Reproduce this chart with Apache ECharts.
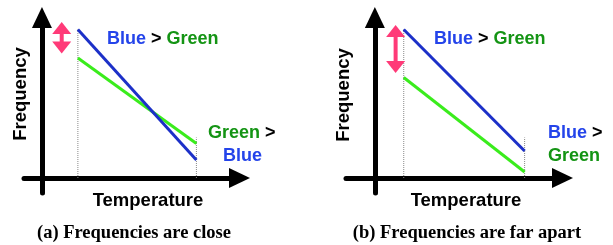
<!DOCTYPE html>
<html>
<head>
<meta charset="utf-8">
<script src="https://cdn.jsdelivr.net/npm/echarts@6/dist/echarts.min.js"></script>
<style>
  html, body { margin: 0; padding: 0; background: #fff; }
  #chart { width: 613px; height: 245px; }
</style>
</head>
<body>
<div id="chart"></div>
<script>
// panel (a): frequencies are close
const tempA = [2.0, 8.6];
const blueA = [9.9, 1.2];
const greenA = [8.0, 2.3];
const dotTopA = [9.9, 2.7];
const gapXA = [1.1, 1.1];
const gapYA = [10.0, 8.7];

// panel (b): frequencies are far apart
const tempB = [1.6, 8.3];
const blueB = [9.9, 1.8];
const greenB = [6.7, 0.4];
const dotTopB = [9.9, 2.7];
const gapXB = [1.15, 1.15];
const gapYB = [9.8, 7.4];

const BLUE_LINE = '#1c30c8';
const GREEN_LINE = '#3aec1c';
const BLUE_TXT = '#2444ea';
const GREEN_TXT = '#149414';
const PINK = '#ff3a78';

const pairs = (xs, ys) => xs.map((x, i) => [x, ys[i]]);

const axisCommon = {
  type: 'value',
  axisLine: {
    show: true,
    onZero: true,
    symbol: ['none', 'triangle'],
    symbolSize: [20, 21],
    lineStyle: { color: '#000', width: 5 }
  },
  axisTick: { show: false },
  axisLabel: { show: false },
  splitLine: { show: false }
};

function panelSeries(idx, temp, blue, green, dotTop, gx, gy) {
  const out = [];
  temp.forEach((t, i) => {
    out.push({
      type: 'line', xAxisIndex: idx, yAxisIndex: idx,
      data: [[t, 0], [t, dotTop[i]]],
      showSymbol: false, silent: true, z: 1,
      lineStyle: { color: '#888', width: 1, type: 'dotted' }
    });
  });
  out.push({
    type: 'line', xAxisIndex: idx, yAxisIndex: idx,
    data: pairs(temp, green), showSymbol: false, z: 3,
    lineStyle: { color: GREEN_LINE, width: 3 }
  });
  out.push({
    type: 'line', xAxisIndex: idx, yAxisIndex: idx,
    data: pairs(temp, blue), showSymbol: false, z: 4,
    lineStyle: { color: BLUE_LINE, width: 3 }
  });
  // pink double arrow
  out.push({
    type: 'line', xAxisIndex: idx, yAxisIndex: idx,
    data: pairs(gx, gy).map((p, i) => ({ value: p, symbolRotate: i === 0 ? 0 : 180 })),
    symbol: 'triangle', symbolSize: [19, 12], showSymbol: true, z: 5,
    itemStyle: { color: PINK, borderWidth: 0 },
    lineStyle: { color: PINK, width: 4 }
  });
  return out;
}

const annFont = 'bold 18px "Liberation Sans", Arial, sans-serif';
const rich = {
  b: { fill: BLUE_TXT, color: BLUE_TXT, font: annFont },
  g: { fill: GREEN_TXT, color: GREEN_TXT, font: annFont },
  k: { fill: '#000', color: '#000', font: annFont }
};

function txt(x, y, text) {
  return {
    type: 'text', x: x, y: y,
    style: {
      text: text, rich: rich, font: annFont,
      fill: '#000', align: 'left', verticalAlign: 'middle'
    }
  };
}

const titleFont = 'bold 18.5px "Liberation Sans", Arial, sans-serif';
const capFont = 'bold 18.5px "Liberation Serif", "Times New Roman", serif';

const chart = echarts.init(document.getElementById('chart'));
chart.setOption({
  animation: false,
  grid: [
    { left: 24, top: 17.5, width: 215.5, height: 175.5 },
    { left: 346, top: 17.5, width: 216.5, height: 175.5 }
  ],
  xAxis: [
    Object.assign({}, axisCommon, { gridIndex: 0, min: -1, max: 11 }),
    Object.assign({}, axisCommon, { gridIndex: 1, min: -1.6, max: 10.4 })
  ],
  yAxis: [
    Object.assign({}, axisCommon, { gridIndex: 0, min: -1, max: 10.7 }),
    Object.assign({}, axisCommon, { gridIndex: 1, min: -1, max: 10.7 })
  ],
  series: [].concat(
    panelSeries(0, tempA, blueA, greenA, dotTopA, gapXA, gapYA),
    panelSeries(1, tempB, blueB, greenB, dotTopB, gapXB, gapYB)
  ),
  graphic: [
    txt(107, 39, '{b|Blue} {k|>} {g|Green}'),
    txt(208, 133, '{g|Green} {k|>}'),
    txt(223, 156, '{b|Blue}'),
    txt(434, 39, '{b|Blue} {k|>} {g|Green}'),
    txt(548, 133, '{b|Blue} {k|>}'),
    txt(548, 156, '{g|Green}'),
    { type: 'text', x: 21, y: 94, rotation: Math.PI / 2,
      style: { text: 'Frequency', font: titleFont, fill: '#000', align: 'center', verticalAlign: 'middle' } },
    { type: 'text', x: 344, y: 95, rotation: Math.PI / 2,
      style: { text: 'Frequency', font: titleFont, fill: '#000', align: 'center', verticalAlign: 'middle' } },
    { type: 'text', x: 148, y: 201,
      style: { text: 'Temperature', font: titleFont, fill: '#000', align: 'center', verticalAlign: 'middle' } },
    { type: 'text', x: 466, y: 201,
      style: { text: 'Temperature', font: titleFont, fill: '#000', align: 'center', verticalAlign: 'middle' } },
    { type: 'text', x: 134, y: 233,
      style: { text: '(a) Frequencies are close', font: capFont, fill: '#000', align: 'center', verticalAlign: 'middle' } },
    { type: 'text', x: 467, y: 233,
      style: { text: '(b) Frequencies are far apart', font: capFont, fill: '#000', align: 'center', verticalAlign: 'middle' } }
  ]
});
</script>
</body>
</html>
